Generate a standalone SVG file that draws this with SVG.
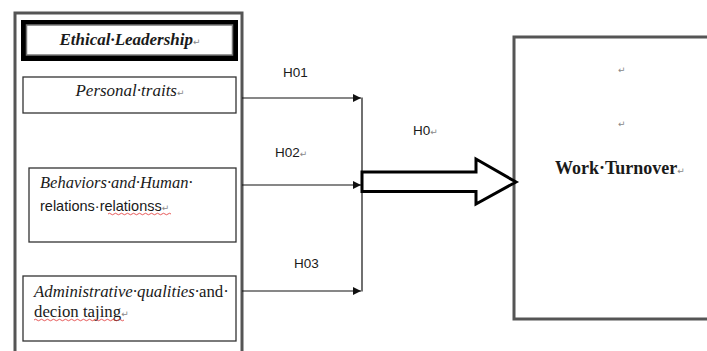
<svg xmlns="http://www.w3.org/2000/svg" width="707" height="351" viewBox="0 0 707 351">
<style>
.frame{fill:#fff;stroke:#555;stroke-width:3}
.box{fill:#fff;stroke:#333;stroke-width:1.3}
.serif{font-family:"Liberation Serif","Times New Roman",serif;fill:#1a1a1a}
.sans{font-family:"Liberation Sans",Arial,sans-serif;fill:#1a1a1a}
.mark{fill:#888;font-family:"DejaVu Sans",sans-serif;font-size:9px;font-style:normal;font-weight:normal}
.line{stroke:#111;stroke-width:1.2;fill:none}
.wave{stroke:#e03030;stroke-width:0.8;fill:none}
</style>
<defs>
<marker id="ah" viewBox="0 0 10 10" refX="10" refY="5" markerWidth="10" markerHeight="8" markerUnits="userSpaceOnUse" orient="auto">
<path d="M0,0 L10,5 L0,10 z" fill="#111"/>
</marker>
</defs>
<rect width="707" height="351" fill="#fff"/>
<g id="ethical-leadership">
<rect class="frame" x="15" y="13" width="227" height="350"/>
<rect x="21" y="20" width="217" height="41" fill="#000"/>
<rect x="26.5" y="25" width="206" height="30" fill="#fff" stroke="#777" stroke-width="1.5"/>
<text class="serif" x="130" y="45" font-size="17" font-weight="bold" font-style="italic" text-anchor="middle">Ethical·Leadership<tspan class="mark">↵</tspan></text>
</g>
<g id="personal-traits">
<rect class="box" x="23" y="77" width="213" height="36"/>
<text class="serif" x="130" y="96" font-size="17" font-style="italic" text-anchor="middle">Personal·traits<tspan class="mark">↵</tspan></text>
</g>
<g id="behaviors">
<rect class="box" x="29" y="168" width="207" height="74"/>
<text class="serif" x="40" y="188" font-size="16.5" font-style="italic">Behaviors·and·Human·</text>
<text class="sans" x="40" y="211" font-size="14.5">relations·relationss<tspan class="mark">↵</tspan></text>
<path class="wave" d="M108,214 q1.5,-1.5 3,0 t3,0 t3,0 t3,0 t3,0 t3,0 t3,0 t3,0 t3,0 t3,0 t3,0 t3,0 t3,0 t3,0 t3,0 t3,0 t3,0 t3,0 t3,0 t3,0 t3,0"/>
</g>
<g id="administrative">
<rect class="box" x="23" y="276" width="213" height="65"/>
<text class="serif" x="34" y="297" font-size="16.8"><tspan font-style="italic">Administrative·qualities·</tspan>and·</text>
<text class="serif" x="34" y="317" font-size="16.8">decion tajing<tspan class="mark">↵</tspan></text>
<path class="wave" d="M34,320 q1.5,-1.5 3,0 t3,0 t3,0 t3,0 t3,0 t3,0 t3,0 t3,0 t3,0 t3,0 t3,0 t3,0 t3,0 t3,0 t3,0 t3,0 t3,0 t3,0 t3,0 t3,0 t3,0 t3,0 t3,0 t3,0 t3,0 t3,0 t3,0 t3,0 t3,0 t3,0"/>
</g>
<g id="work-turnover">
<rect class="frame" x="514" y="37" width="200" height="282"/>
<text class="mark" x="618" y="73" font-size="9">↵</text>
<text class="mark" x="618" y="127" font-size="9">↵</text>
<text class="serif" x="555" y="174" font-size="18" font-weight="bold">Work·Turnover<tspan class="mark">↵</tspan></text>
</g>
<g id="connectors">
<line class="line" x1="242" y1="98" x2="361" y2="98" marker-end="url(#ah)"/>
<line class="line" x1="242" y1="185" x2="361" y2="185" marker-end="url(#ah)"/>
<line class="line" x1="242" y1="291" x2="361" y2="291" marker-end="url(#ah)"/>
<line class="line" x1="362" y1="97.5" x2="362" y2="291.5"/>
<path d="M362,172 L476,172 L476,159 L516,182 L476,204 L476,191.5 L362,191.5 Z" fill="#fff" stroke="#000" stroke-width="3" stroke-linejoin="miter"/>
<text class="sans" x="283" y="77" font-size="13.5">H01</text>
<text class="sans" x="275" y="157" font-size="13.5">H02<tspan class="mark">↵</tspan></text>
<text class="sans" x="294" y="268" font-size="13.5">H03</text>
<text class="sans" x="413" y="135" font-size="13.5">H0<tspan class="mark">↵</tspan></text>
</g>
</svg>
